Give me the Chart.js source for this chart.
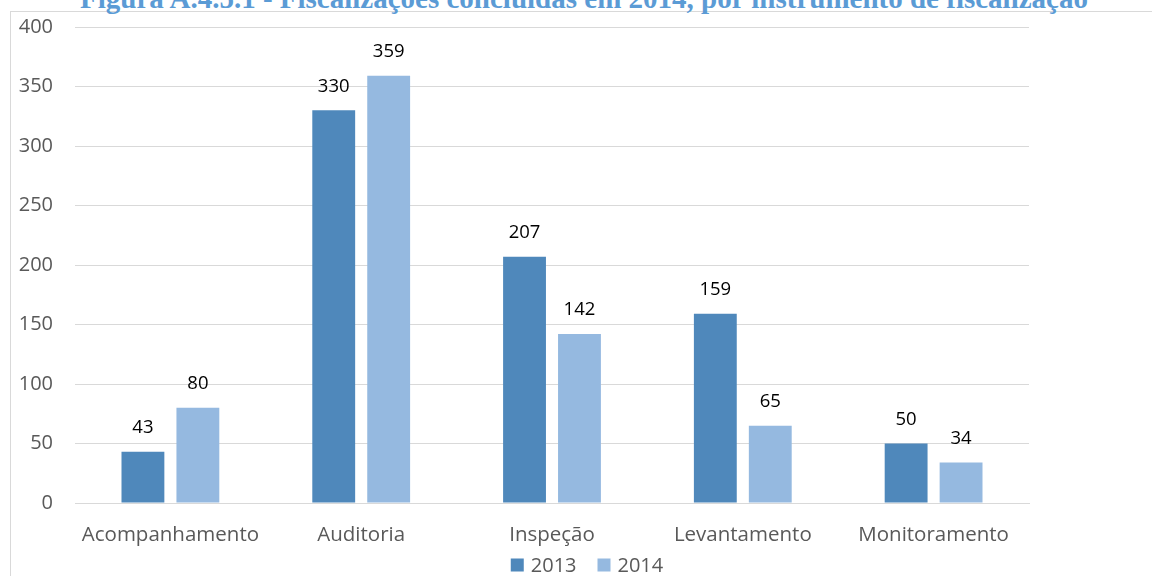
<!DOCTYPE html>
<html>
<head>
<meta charset="utf-8">
<script src="https://cdn.jsdelivr.net/npm/chart.js@4.4.0/dist/chart.umd.min.js"></script>
<style>
  html, body { margin: 0; padding: 0; background: #fff; overflow: hidden; }
  #wrap { position: relative; width: 1152px; height: 576px; overflow: hidden; }
  #box { position: absolute; left: 10px; top: 11px; width: 1200px; height: 600px; border: 1px solid #d9d9d9; }
  #titulo { position: absolute; left: 0; width: 1168px; top: -18px; text-align: center;
    font: bold 29px "Liberation Serif", serif; color: #5b9bd5; white-space: nowrap; }
  #c { position: absolute; left: 0; top: 0; }
</style>
</head>
<body>
<div id="wrap">
  <div id="box"></div>
  <div id="titulo">Figura A.4.5.1 - Fiscalizações concluídas em 2014, por instrumento de fiscalização</div>
  <canvas id="c" width="1152" height="576"></canvas>
</div>
<script>
const categorias = ['Acompanhamento', 'Auditoria', 'Inspeção', 'Levantamento', 'Monitoramento'];
const valores2013 = [43, 330, 207, 159, 50];
const valores2014 = [80, 359, 142, 65, 34];
const ticksY = [0, 50, 100, 150, 200, 250, 300, 350, 400];

const fonte = '"Open Sans", sans-serif';
const corTexto = '#595959';

// escreve o valor acima de cada barra
const rotulos = {
  id: 'rotulos',
  afterDatasetsDraw(chart) {
    const ctx = chart.ctx;
    ctx.save();
    ctx.font = '18.5px ' + fonte;
    ctx.fillStyle = '#000';
    ctx.textAlign = 'center';
    ctx.textBaseline = 'middle';
    chart.data.datasets.forEach((ds, i) => {
      chart.getDatasetMeta(i).data.forEach((bar, j) => {
        ctx.fillText(ds.data[j], bar.x, bar.y - 24);
      });
    });
    ctx.restore();
  }
};

// legenda desenhada a mao (o espacamento do Excel e diferente do padrao)
const legenda = {
  id: 'legenda',
  afterDraw(chart) {
    const ctx = chart.ctx;
    ctx.save();
    ctx.font = '20px ' + fonte;
    ctx.textBaseline = 'middle';
    const itens = chart.data.datasets.map(ds => ({ txt: ds.label, cor: ds.backgroundColor, w: ctx.measureText(ds.label).width }));
    const total = itens.reduce((a, it) => a + 13 + 7 + it.w, 0) + 21 * (itens.length - 1);
    let x = chart.width / 2 + 11 - total / 2;
    const y = chart.height - 11;
    itens.forEach(it => {
      ctx.fillStyle = it.cor;
      ctx.fillRect(x, y - 6.5, 13, 13);
      ctx.fillStyle = corTexto;
      ctx.fillText(it.txt, x + 20, y + 1);
      x += 13 + 7 + it.w + 21;
    });
    ctx.restore();
  }
};

new Chart(document.getElementById('c').getContext('2d'), {
  type: 'bar',
  data: {
    labels: categorias,
    datasets: [
      { label: '2013', data: valores2013, backgroundColor: '#4f88bb', categoryPercentage: 0.576, barPercentage: 0.78 },
      { label: '2014', data: valores2014, backgroundColor: '#95b9e0', categoryPercentage: 0.576, barPercentage: 0.78 }
    ]
  },
  options: {
    responsive: false,
    animation: false,
    layout: { padding: { top: 27, right: 123, left: 0, bottom: 0 } },
    plugins: {
      tooltip: { enabled: false },
      legend: { display: false }
    },
    scales: {
      x: {
        grid: { display: false },
        border: { color: '#d9d9d9' },
        ticks: { font: { family: fonte, size: 20.5 }, color: corTexto, padding: 12 },
        afterFit(s) { s.height = 73; s.paddingLeft = 0; s.paddingRight = 0; }
      },
      y: {
        min: 0, max: 400,
        afterBuildTicks(s) { s.ticks = ticksY.map(v => ({ value: v })); },
        grid: { color: '#d9d9d9', drawTicks: false },
        border: { display: false },
        ticks: { font: { family: fonte, size: 20 }, color: corTexto, padding: 22 },
        afterFit(s) { s.width = 75; s.paddingTop = 0; s.paddingBottom = 0; }
      }
    }
  },
  plugins: [rotulos, legenda]
});
</script>
</body>
</html>
